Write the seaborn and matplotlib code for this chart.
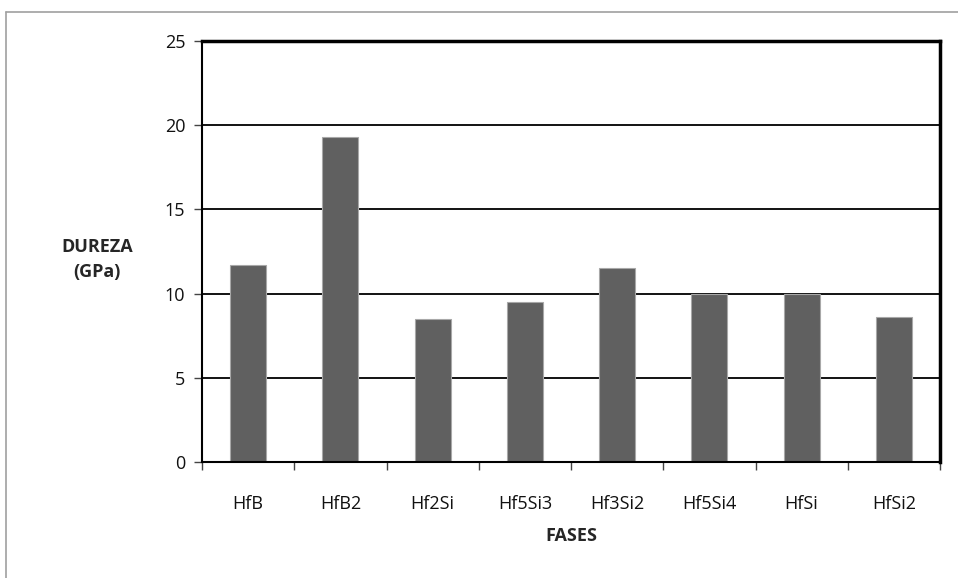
import matplotlib
matplotlib.use("Agg")
import matplotlib.pyplot as plt
import seaborn as sns
import pandas as pd
import numpy as np
from matplotlib.lines import Line2D

fases = ["HfB", "HfB2", "Hf2Si", "Hf5Si3", "Hf3Si2", "Hf5Si4", "HfSi", "HfSi2"]
dureza = [11.7, 19.3, 8.5, 9.5, 11.5, 10.0, 10.0, 8.6]
yticks = [0, 5, 10, 15, 20, 25]

df = pd.DataFrame({"FASES": fases, "DUREZA": dureza})

sns.set_style("white")
plt.rcParams['font.family'] = ['Open Sans', 'DejaVu Sans']

fig = plt.figure(figsize=(9.58, 5.78), dpi=100)
ax = fig.add_axes([202/958, 1-462/578, (940-202)/958, (462-41)/578])

for y in yticks[1:-1]:
    ax.axhline(y, color="black", lw=1.3, zorder=0)

sns.barplot(data=df, x="FASES", y="DUREZA", color="#606060", width=0.39,
            edgecolor="#a8a8a8", linewidth=0.8, saturation=1, ax=ax, zorder=2)

ax.set_ylim(0, 25)
ax.set_xlim(-0.5, len(fases) - 0.5)
ax.set_yticks(yticks)
ax.set_yticklabels([str(v) for v in yticks], fontsize=13, color="#111111")
ax.set_xticks(range(len(fases)))
ax.set_xticklabels(fases, fontsize=13, color="#111111")
ax.set_xticks(np.arange(-0.5, len(fases), 1.0), minor=True)
ax.tick_params(axis="x", which="major", length=0, pad=24, bottom=True)
ax.tick_params(axis="x", which="minor", length=6, width=1, color="#444444",
               direction="out", bottom=True)
ax.tick_params(axis="y", length=6, width=1, color="#444444", direction="out", left=True, pad=6)

for side in ["left", "bottom"]:
    ax.spines[side].set_color("black")
    ax.spines[side].set_linewidth(1.5)
for side in ["top", "right"]:
    ax.spines[side].set_color("black")
    ax.spines[side].set_linewidth(2.5)

ax.set_xlabel("FASES", fontsize=13, fontweight="bold", labelpad=10)
ax.set_ylabel("DUREZA\n(GPa)", fontsize=13, fontweight="bold", rotation=0,
              ha="center", va="center", linespacing=1.5)
ax.yaxis.set_label_coords((97-202)/738, (462-259)/421)

# outer chart frame
fig.add_artist(Line2D([6/958, 6/958], [0, 1-12/578], transform=fig.transFigure, color="#a0a0a0", lw=1.2))
fig.add_artist(Line2D([6/958, 1], [1-12/578, 1-12/578], transform=fig.transFigure, color="#a0a0a0", lw=1.2))

fig.savefig("out.png", dpi=100)
